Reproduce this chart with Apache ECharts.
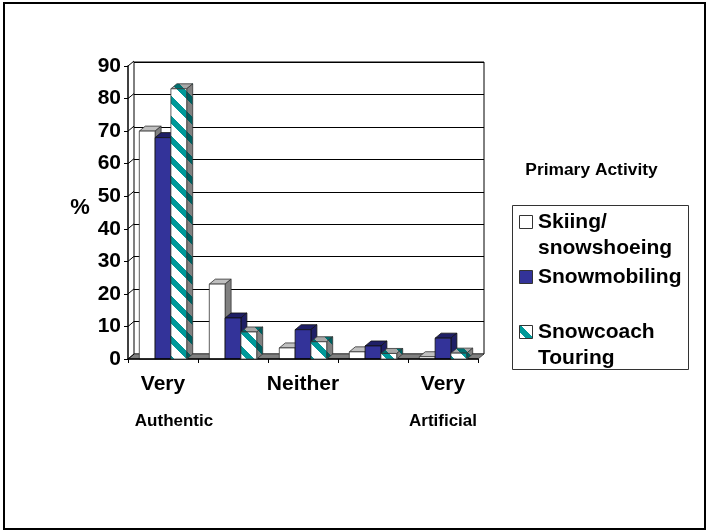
<!DOCTYPE html>
<html><head><meta charset="utf-8">
<style>html,body{margin:0;padding:0;background:#fff}#c{width:706px;height:531px}</style>
<script src="https://cdn.jsdelivr.net/npm/echarts@6/dist/echarts.min.js"></script>
</head><body><div id="c"></div>
<script>
const categories = ['Very', '', 'Neither', '', 'Very'];
const skiing = [70, 23, 3.4, 2.2, 0.7];
const snowmobiling = [68, 12.6, 9, 4, 6.4];
const snowcoach = [83, 8.3, 5.3, 1.7, 1.8];
const seriesNames = ['Skiing/ snowshoeing', 'Snowmobiling', 'Snowcoach Touring'];
const yTicks = [0, 10, 20, 30, 40, 50, 60, 70, 80, 90];

const FONT = '"Liberation Sans", Arial, sans-serif';
const DX = 6, DY = 5, BAR = 15.8;

function stripes(bg, fg) {
  const c = document.createElement('canvas');
  c.width = c.height = 20;
  const g = c.getContext('2d');
  g.fillStyle = bg; g.fillRect(0, 0, 20, 20);
  g.fillStyle = fg;
  for (let x = 0; x < 20; x++) for (let y = 0; y < 20; y++) {
    if (((y - x + 40) % 20) >= 5 && ((y - x + 40) % 20) < 13) g.fillRect(x, y, 1, 1);
  }
  return { image: c, repeat: 'repeat' };
}
const styles = [
  { front: '#ffffff', top: '#c0c0c0', side: '#808080', line: '#333' },
  { front: '#333399', top: '#1f1f66', side: '#1f1f66', line: '#111' },
  { front: stripes('#ffffff', '#009999'), top: stripes('#a8a8a8', '#007070'), side: stripes('#808080', '#006060'), line: '#333' }
];

function barRenderer(idx) {
  return function (params, api) {
    const base = api.coord([api.value(0), 0]);
    const top = api.coord([api.value(0), api.value(1)]);
    const x0 = base[0] + (idx - 1.5) * BAR, x1 = x0 + BAR, yb = base[1], yt = top[1];
    const s = styles[idx];
    const ls = { stroke: s.line, lineWidth: 0.8 };
    return {
      type: 'group',
      children: [
        { type: 'polygon', shape: { points: [[x0, yt], [x0 + DX, yt - DY], [x1 + DX, yt - DY], [x1, yt]] }, style: Object.assign({ fill: s.top }, ls) },
        { type: 'polygon', shape: { points: [[x1, yt], [x1 + DX, yt - DY], [x1 + DX, yb - DY], [x1, yb]] }, style: Object.assign({ fill: s.side }, ls) },
        { type: 'polygon', shape: { points: [[x0, yt], [x1, yt], [x1, yb], [x0, yb]] }, style: Object.assign({ fill: s.front }, ls) }
      ]
    };
  };
}
function frameRenderer(params, api) {
  const cs = params.coordSys;
  const p = api.coord([0, api.value(0)]);
  const kids = [{ type: 'line', shape: { x1: cs.x, y1: p[1], x2: cs.x + DX, y2: p[1] - DY }, style: { stroke: '#000', lineWidth: 1 } }];
  if (params.dataIndex === 0) {
    kids.unshift({ type: 'polygon', shape: { points: [[cs.x, p[1]], [cs.x + cs.width, p[1]], [cs.x + cs.width + DX, p[1] - DY], [cs.x + DX, p[1] - DY]] }, style: { fill: '#808080', stroke: '#333', lineWidth: 0.8 } });
  }
  return { type: 'group', children: kids };
}
function mkSeries(i, values) {
  return {
    name: seriesNames[i], type: 'custom', xAxisIndex: 0, yAxisIndex: 0, z: 5 + i, clip: false,
    renderItem: barRenderer(i), encode: { x: 0, y: 1 },
    data: values.map((v, k) => [k, v])
  };
}
function text(x, y, t, size, align) {
  return { type: 'text', x, y, z: 20, style: { text: t, font: 'bold ' + size + 'px ' + FONT, fill: '#000', textAlign: align || 'left', textVerticalAlign: 'middle' } };
}
const swatch = (y, fill) => ({ type: 'rect', z: 20, shape: { x: 519.5, y, width: 13, height: 13 }, style: { fill, stroke: '#333', lineWidth: 1 } });

const chart = echarts.init(document.getElementById('c'), null, { renderer: 'canvas' });
chart.setOption({
  animation: false,
  backgroundColor: '#fff',
  grid: [
    { left: 128, top: 66, width: 350, height: 293 },
    { left: 134, top: 62, width: 350, height: 292, show: true, borderColor: '#000', borderWidth: 1, backgroundColor: 'transparent', z: 0 }
  ],
  xAxis: [
    { type: 'category', gridIndex: 0, data: categories, z: 6,
      axisLine: { show: true, lineStyle: { color: '#000', width: 1.5 } },
      axisTick: { show: true, length: 4, interval: 0, lineStyle: { color: '#000', width: 1 } },
      axisLabel: { interval: 0, margin: 15, color: '#000', fontFamily: FONT, fontWeight: 'bold', fontSize: 21 } },
    { type: 'category', gridIndex: 1, data: categories, show: false }
  ],
  yAxis: [
    { type: 'value', gridIndex: 0, min: 0, max: 90, interval: 10, z: 6, splitLine: { show: false },
      axisLine: { show: true, lineStyle: { color: '#000', width: 1.5 } },
      axisTick: { show: true, length: 4, lineStyle: { color: '#000', width: 1 } },
      axisLabel: { margin: 7, color: '#000', fontFamily: FONT, fontWeight: 'bold', fontSize: 21 } },
    { type: 'value', gridIndex: 1, min: 0, max: 90, interval: 10,
      axisLine: { show: false }, axisTick: { show: false }, axisLabel: { show: false },
      splitLine: { show: true, lineStyle: { color: '#000', width: 1 } } }
  ],
  series: [
    { name: 'frame', type: 'custom', xAxisIndex: 0, yAxisIndex: 0, z: 2, clip: false, renderItem: frameRenderer, encode: { y: 0 }, data: yTicks.map(v => [v]) },
    mkSeries(0, skiing), mkSeries(1, snowmobiling), mkSeries(2, snowcoach)
  ],
  graphic: { elements: [
    { type: 'rect', z: 1, shape: { x: 4, y: 3, width: 701, height: 526 }, style: { fill: 'none', stroke: '#000', lineWidth: 2 } },
    { type: 'rect', z: 19, shape: { x: 512.5, y: 205.5, width: 176, height: 164 }, style: { fill: '#fff', stroke: '#333', lineWidth: 1 } },
    swatch(215.5, '#ffffff'), swatch(270.5, '#333399'), swatch(325.5, styles[2].front),
    text(538, 222, 'Skiing/', 21), text(538, 248, 'snowshoeing', 21), text(538, 277, 'Snowmobiling', 21),
    text(538, 332, 'Snowcoach', 21), text(538, 358, 'Touring', 21),
    text(80, 208, '%', 22, 'center'),
    text(174, 421, 'Authentic', 17, 'center'), text(443, 421, 'Artificial', 17, 'center'),
    text(591.5, 170, 'Primary Activity', 17.4, 'center')
  ] }
});
</script></body></html>
